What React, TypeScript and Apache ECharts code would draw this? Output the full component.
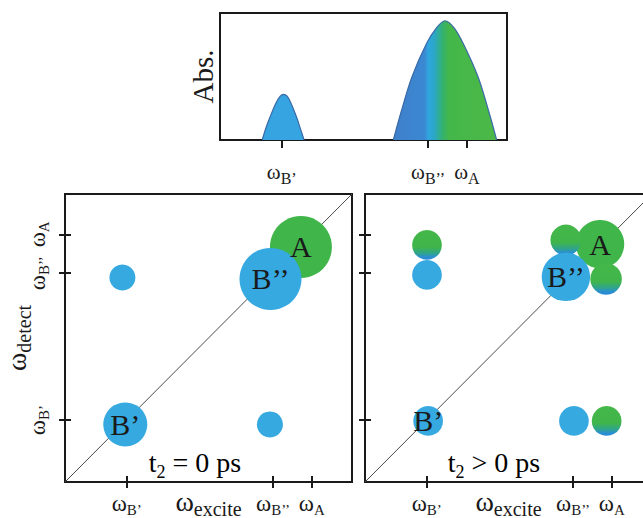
import React, { useEffect, useRef } from "react";
import * as echarts from "echarts";

const FONT = "Liberation Serif";
const INK = "#1a1a1a";

// frequency positions (shared scale 0..100) of the ticks: ωB', ωB'', ωA
const tickValues = [21.5, 72.5, 86];
const tickSubs = ["B’", "B’’", "A"];

// linear absorption spectrum [frequency, absorbance]
const absPeakBprime: [number, number][] = [
  [14.7, 0], [16.0, 9.5], [17.4, 17.9], [19.5, 29.1], [21.0, 34.5], [22.1, 36], [23.4, 34.5],
  [24.7, 29.1], [26.7, 17.9], [28.0, 9.0], [29.3, 0],
];
const absPeakBA: [number, number][] = [
  [60.4, 0], [63.3, 23.6], [66.9, 49.8], [72.0, 76.1], [75.5, 88.5], [78.4, 93.9],
  [81.5, 88.5], [84.7, 76.1], [89.9, 49.8], [93.5, 23.6], [96.4, 0],
];

// 2D spectra peaks: [label, excite, detect, relative amplitude, kind]
type Peak = [string, number, number, number, "blue" | "green" | "mix"];
const peaksT0: Peak[] = [
  ["", 20.0, 71.0, 0.42, "blue"],
  ["", 71.4, 20.0, 0.42, "blue"],
  ["B’", 21.0, 20.0, 0.71, "blue"],
  ["A", 82.2, 81.6, 1.0, "green"],
  ["B’’", 71.6, 70.5, 1.0, "blue"],
];
const peaksT2: Peak[] = [
  ["A", 81.9, 82.6, 0.78, "green"],
  ["", 70.0, 84.0, 0.5, "mix"],
  ["B’’", 70.0, 71.2, 0.78, "blue"],
  ["", 84.0, 70.5, 0.51, "mix"],
  ["", 21.6, 82.3, 0.48, "mix"],
  ["", 21.6, 71.9, 0.48, "blue"],
  ["B’", 22.0, 21.2, 0.48, "blue"],
  ["", 72.8, 21.2, 0.48, "blue"],
  ["", 84.2, 21.2, 0.48, "mix"],
];
const diagonal: [number, number][] = [[0, 0], [100, 100]];

const BLUE = "#36a9e1";
const GREEN = "#3fb54a";
const FULL = 62;

function colorFor(kind: string): any {
  if (kind === "blue") return BLUE;
  if (kind === "green") return GREEN;
  return new echarts.graphic.LinearGradient(0, 0, 0, 1, [
    { offset: 0, color: "#45b749" },
    { offset: 0.58, color: "#40b54b" },
    { offset: 0.78, color: "#2fa48c" },
    { offset: 0.9, color: "#2b90d0" },
    { offset: 1, color: "#2a86d8" },
  ]);
}

// subscripts are pushed down with a top padding (shift = padding / 2)
const tickRich = {
  w: { fontFamily: FONT, fontSize: 23, lineHeight: 26, color: INK },
  s: { fontFamily: FONT, fontSize: 15, lineHeight: 10, padding: [14, 0, 0, 0], color: INK },
};
const topRich = {
  w: { fontFamily: FONT, fontSize: 21, lineHeight: 24, color: INK },
  s: { fontFamily: FONT, fontSize: 16, lineHeight: 10, padding: [12, 0, 0, 0], color: INK },
};
const nameRich = {
  w: { fontFamily: FONT, fontSize: 28, lineHeight: 30, color: INK },
  s: { fontFamily: FONT, fontSize: 20, lineHeight: 12, padding: [16, 0, 0, 0], color: INK },
};
const annRich = {
  m: { fontFamily: FONT, fontSize: 28, lineHeight: 30, color: INK },
  s: { fontFamily: FONT, fontSize: 18, lineHeight: 10, padding: [19, 0, 0, 0], color: INK },
};

const tickFmt = (v: number) => {
  let i = 0;
  let best = Infinity;
  tickValues.forEach((t, k) => {
    if (Math.abs(t - v) < best) { best = Math.abs(t - v); i = k; }
  });
  return `{w|ω}{s|${tickSubs[i]}}`;
};

function panelAxis(gridIndex: number, withLabels: boolean, isY: boolean): any {
  const ax: any = {
    gridIndex,
    type: "value",
    min: 0,
    max: 100,
    offset: -6,
    axisLine: { show: false },
    splitLine: { show: false },
    axisTick: { show: true, customValues: tickValues, length: 12, inside: false, lineStyle: { color: INK, width: 2 } },
    axisLabel: withLabels
      ? {
          show: true,
          customValues: tickValues,
          formatter: tickFmt,
          rich: tickRich,
          fontFamily: FONT,
          margin: isY ? 21 : 14,
          rotate: isY ? 90 : 0,
          hideOverlap: false,
        }
      : { show: false },
  };
  if (withLabels) {
    ax.name = isY ? "{w|ω}{s|detect}" : "{w|ω}{s|excite}";
    ax.nameLocation = "middle";
    ax.nameGap = isY ? 40 : 10;
    ax.nameRotate = isY ? 90 : 0;
    ax.nameMoveOverlap = false;
    ax.nameTextStyle = { rich: nameRich, fontFamily: FONT };
  }
  return ax;
}

function scatterSeries(idx: number, peaks: Peak[]): any {
  return {
    type: "scatter",
    xAxisIndex: idx,
    yAxisIndex: idx,
    symbol: "circle",
    z: 3,
    data: peaks.map(([name, x, y, amp, kind]) => ({
      name,
      value: [x, y],
      symbolSize: amp * FULL,
      itemStyle: { color: colorFor(kind), opacity: 1 },
    })),
    label: {
      show: true,
      position: "inside",
      formatter: (p: any) => p.name,
      fontFamily: FONT,
      fontSize: 30,
      color: INK,
    },
    emphasis: { disabled: true },
  };
}

function diagSeries(idx: number): any {
  return {
    type: "line",
    xAxisIndex: idx,
    yAxisIndex: idx,
    data: diagonal,
    symbol: "none",
    z: 1,
    lineStyle: { color: "#4a4a4a", width: 1 },
    silent: true,
  };
}

export default function App() {
  const ref = useRef<HTMLDivElement>(null);
  useEffect(() => {
    if (!ref.current) return;
    const chart = echarts.init(ref.current, null, { renderer: "svg" });
    const gridStyle = {
      show: true,
      borderColor: INK,
      borderWidth: 2,
      backgroundColor: "transparent",
      containLabel: false,
      outerBoundsMode: "none",
    };
    const option: any = {
      animation: false,
      backgroundColor: "#ffffff",
      textStyle: { fontFamily: FONT },
      grid: [
        { left: 220, top: 13, width: 287, height: 127, ...gridStyle },
        { left: 65, top: 194, width: 287, height: 288, ...gridStyle },
        { left: 365, top: 194, width: 287, height: 288, ...gridStyle },
      ],
      xAxis: [
        {
          gridIndex: 0,
          type: "value",
          min: 0,
          max: 100,
          axisLine: { show: false },
          splitLine: { show: false },
          axisTick: { show: true, customValues: tickValues, length: 8, lineStyle: { color: INK, width: 2 } },
          axisLabel: { show: true, customValues: tickValues, formatter: tickFmt, rich: topRich, fontFamily: FONT, margin: 20 },
        },
        panelAxis(1, true, false),
        panelAxis(2, true, false),
      ],
      yAxis: [
        {
          gridIndex: 0,
          type: "value",
          min: 0,
          max: 100,
          axisLine: { show: false },
          splitLine: { show: false },
          axisTick: { show: false },
          axisLabel: { show: false },
          name: "Abs.",
          nameLocation: "middle",
          nameRotate: 90,
          nameGap: 4,
          nameTextStyle: { fontFamily: FONT, fontSize: 29, lineHeight: 26, color: INK },
        },
        panelAxis(1, true, true),
        panelAxis(2, false, true),
      ],
      series: [
        {
          type: "line",
          xAxisIndex: 0,
          yAxisIndex: 0,
          data: absPeakBprime,
          smooth: 0.35,
          symbol: "none",
          lineStyle: { color: "#3b6aa8", width: 1.2 },
          areaStyle: { color: "#35a4e0", opacity: 1 },
        },
        {
          type: "line",
          xAxisIndex: 0,
          yAxisIndex: 0,
          data: absPeakBA,
          smooth: 0.35,
          symbol: "none",
          lineStyle: { color: "#3b6aa8", width: 1.2 },
          areaStyle: {
            opacity: 1,
            color: new echarts.graphic.LinearGradient(0, 0, 1, 0, [
              { offset: 0, color: "#3f7fca" },
              { offset: 0.3, color: "#3b88d2" },
              { offset: 0.34, color: "#2ea6df" },
              { offset: 0.4, color: "#2aa8c4" },
              { offset: 0.48, color: "#35b26a" },
              { offset: 0.54, color: "#44b74a" },
              { offset: 1, color: "#4cb848" },
            ]),
          },
        },
        diagSeries(1),
        diagSeries(2),
        scatterSeries(1, peaksT0),
        scatterSeries(2, peaksT2),
      ],
      graphic: [
        {
          type: "text",
          x: 195,
          y: 462,
          z: 10,
          style: { text: "{m|t}{s|2}{m| = 0 ps}", rich: annRich, fontFamily: FONT, align: "center", verticalAlign: "middle" },
        },
        {
          type: "text",
          x: 494,
          y: 462,
          z: 10,
          style: { text: "{m|t}{s|2}{m| > 0 ps}", rich: annRich, fontFamily: FONT, align: "center", verticalAlign: "middle" },
        },
      ],
    };
    chart.setOption(option);
    return () => chart.dispose();
  }, []);
  return (
    <div
      ref={ref}
      style={{ position: "fixed", left: 0, top: 0, width: 643, height: 518, background: "#fff", overflow: "hidden" }}
    />
  );
}
